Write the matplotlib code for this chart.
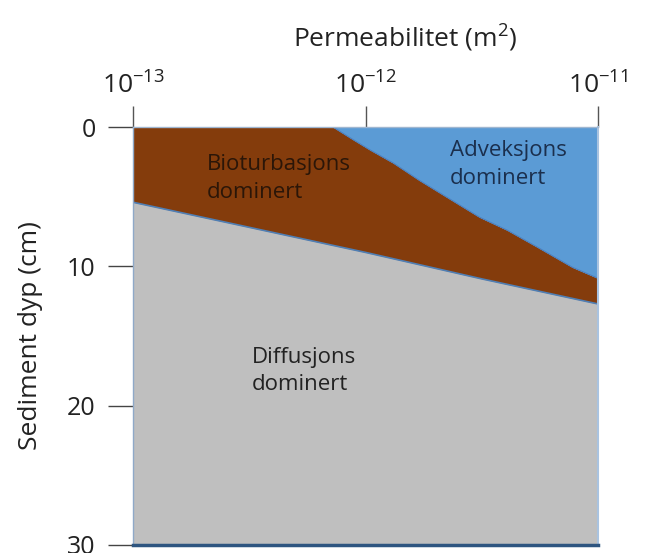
import numpy as np
import matplotlib
matplotlib.use("Agg")
import matplotlib.pyplot as plt

plt.rcParams['font.family'] = ['Open Sans', 'DejaVu Sans']
plt.rcParams['mathtext.fontset'] = 'custom'
plt.rcParams['mathtext.rm'] = 'Open Sans'
plt.rcParams['mathtext.it'] = 'Open Sans:italic'

# Data: log10 permeability (m^2) vs depth (cm) of regime boundaries
diff_exp = [-13.0, -12.5, -12.0, -11.5, -11.0]
diff_depth = [5.4, 7.2, 9.0, 10.9, 12.7]

adv_exp = [-13.0, -12.14, -12.05, -11.98, -11.88, -11.77, -11.65,
           -11.51, -11.39, -11.26, -11.11, -11.0]
adv_depth = [0.0, 0.0, 0.94, 1.65, 2.59, 3.81, 5.04,
             6.47, 7.41, 8.63, 10.07, 10.86]

x_tick_exp = [-13, -12, -11]
y_ticks = [0, 10, 20, 30]
max_depth = 30

title = 'Permeabilitet (m$^{2}$)'
ylabel = 'Sediment dyp (cm)'
label_bio = "Bioturbasjons\ndominert"
label_adv = "Adveksjons\ndominert"
label_diff = "Diffusjons\ndominert"

fig = plt.figure(figsize=(6.54, 5.53), dpi=100)
ax = fig.add_axes([0.2034, 0.0145, 0.7110, 0.7558])
ax.set_xscale('log')

# common grid
grid_exp = np.union1d(diff_exp, adv_exp)
xg = 10.0 ** grid_exp
d_diff = np.interp(grid_exp, diff_exp, diff_depth)
d_adv = np.interp(grid_exp, adv_exp, adv_depth)

ax.fill_between(xg, d_diff, max_depth, color='#bfbfbf', linewidth=0)
ax.fill_between(xg, d_adv, d_diff, color='#843c0c', linewidth=0)
ax.fill_between(xg, 0, d_adv, color='#5b9bd5', linewidth=0)
ax.plot(10.0 ** np.array(diff_exp), diff_depth, color='#4f7fb5', lw=1.2)
ax.plot(10.0 ** np.array(adv_exp), adv_depth, color='#4a7fbf', lw=0.8)

ax.set_xlim(1e-13, 1e-11)
ax.set_ylim(max_depth, 0)

ax.xaxis.tick_top()
ax.set_xticks([10.0 ** e for e in x_tick_exp])
ax.set_xticklabels([r'$10^{%d}$' % e for e in x_tick_exp], fontsize=19, color='#222222')
ax.xaxis.set_minor_locator(matplotlib.ticker.NullLocator())
ax.tick_params(axis='x', which='major', length=15, width=1.0, color='#555555', pad=5)
fig.text(405 / 654, 1 - 38 / 553, title, fontsize=19, color='#222222',
         ha='center', va='center')

ax.set_yticks(y_ticks)
ax.set_yticklabels([str(v) for v in y_ticks], fontsize=18, color='#222222')
ax.tick_params(axis='y', length=18, width=1.0, color='#444444', pad=9)
ax.set_ylabel(ylabel, fontsize=19, labelpad=17, color='#222222')

ax.spines['left'].set_color('#8fa9c8')
ax.spines['left'].set_linewidth(1.0)
ax.spines['top'].set_color('#9fb6d0')
ax.spines['top'].set_linewidth(1.0)
ax.spines['right'].set_color('#a9c3e0')
ax.spines['right'].set_linewidth(1.5)
ax.spines['bottom'].set_color('#2e5580')
ax.spines['bottom'].set_linewidth(2.5)

ax.text(0.159, 0.935, label_bio, transform=ax.transAxes, fontsize=16,
        color='#2b1608', ha='left', va='top', linespacing=1.4)
ax.text(0.682, 0.968, label_adv, transform=ax.transAxes, fontsize=16,
        color='#1b2f4d', ha='left', va='top', linespacing=1.4)
ax.text(0.256, 0.474, label_diff, transform=ax.transAxes, fontsize=16,
        color='#222222', ha='left', va='top', linespacing=1.4)

fig.savefig('out.png', dpi=100)
